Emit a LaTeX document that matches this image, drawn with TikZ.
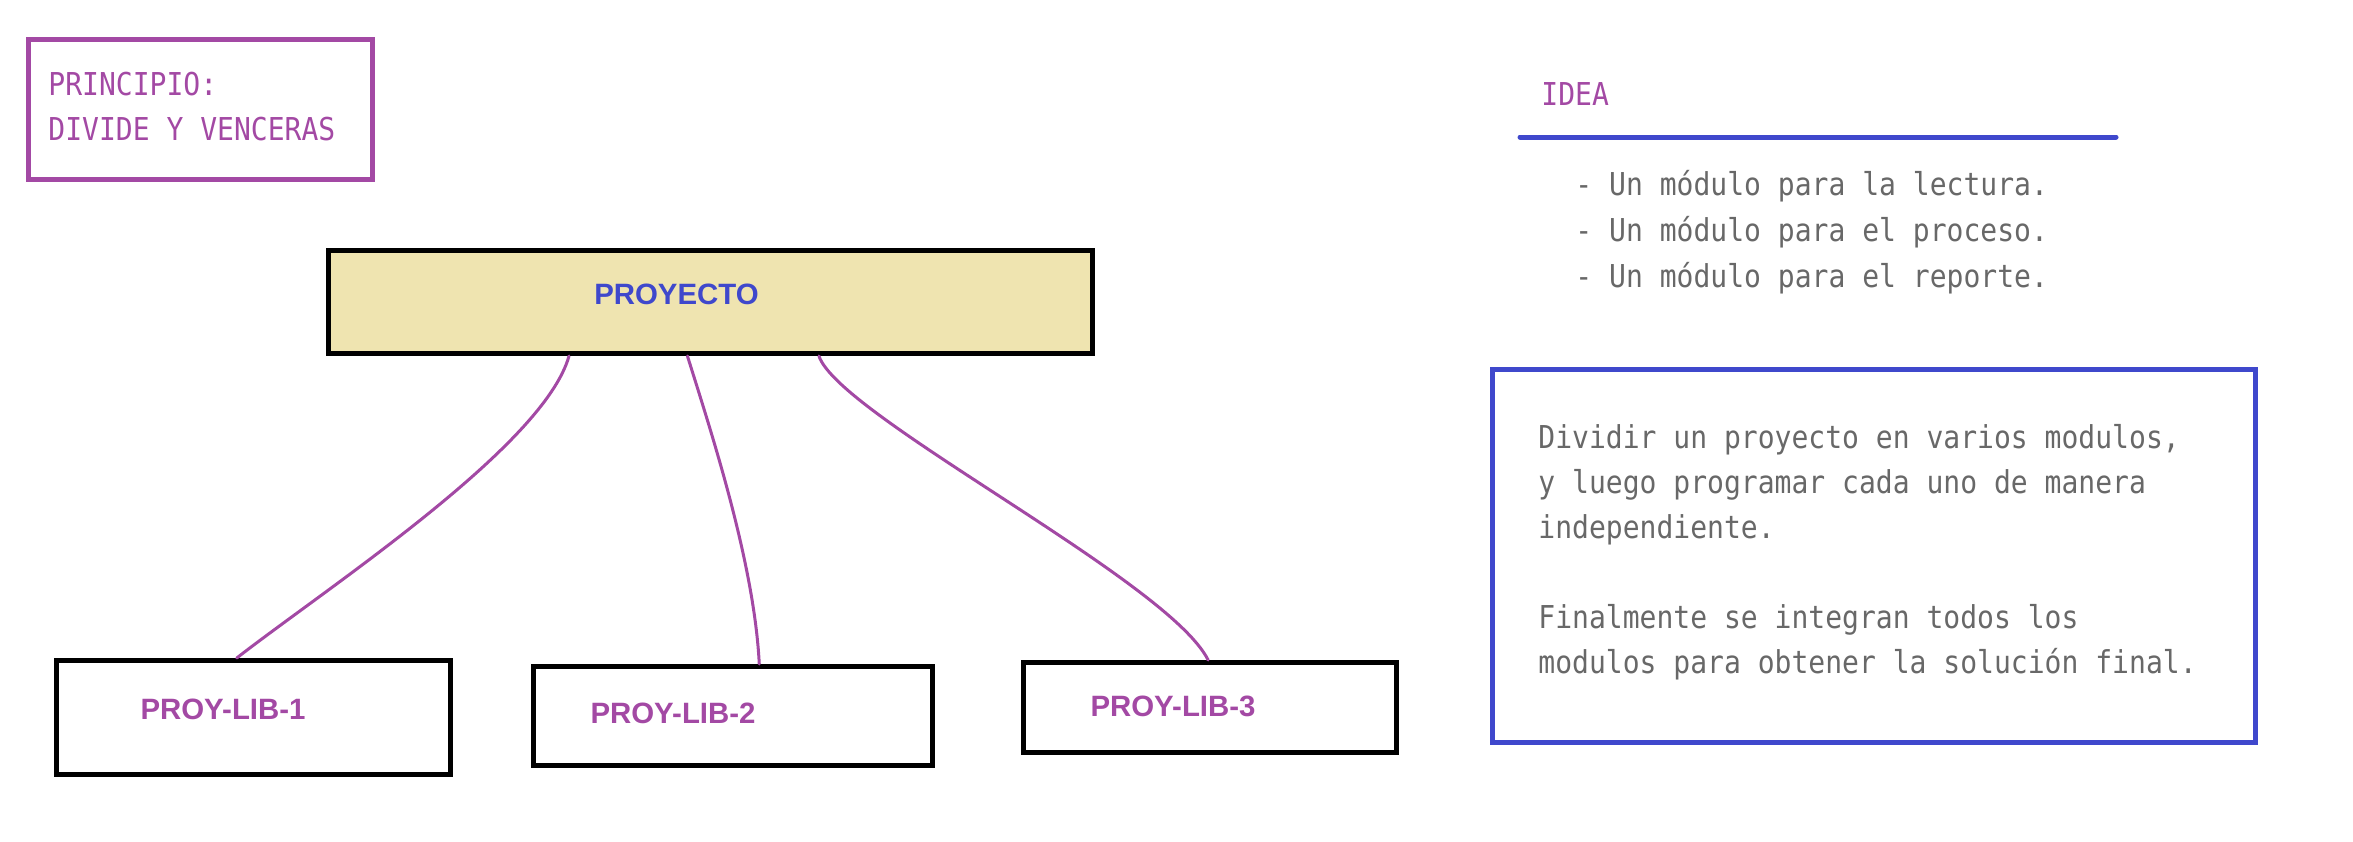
\documentclass[tikz,border=0pt]{standalone}
\usepackage{fontspec}
\setmainfont{Liberation Sans}
\newfontfamily\codefont[FakeStretch=0.89]{DejaVu Sans Mono}
\usepackage{tikz}
\usetikzlibrary{calc}
\definecolor{paintpurple}{RGB}{163,73,164}
\definecolor{paintblue}{RGB}{63,72,204}
\definecolor{painttan}{RGB}{239,228,176}
\definecolor{notegray}{RGB}{104,104,104}
\tikzstyle{sketch}=[x=0.5pt, y=-0.5pt]
\tikzstyle{box}=[rectangle, draw=black, line width=2.5pt, inner sep=0pt]
\tikzstyle{projbox}=[box, fill=painttan]
\tikzstyle{frame}=[rectangle, line width=2.5pt, inner sep=0pt]
\tikzstyle{libname}=[inner sep=0pt, anchor=base, text=paintpurple, font=\fontsize{14.7}{17}\selectfont\bfseries]
\tikzstyle{projname}=[libname, text=paintblue]
\tikzstyle{code}=[inner sep=0pt, anchor=base west, align=left, font=\codefont\fontsize{15.75}{22.5}\selectfont]
\tikzstyle{bullets}=[code, font=\codefont\fontsize{15.75}{23}\selectfont]
\tikzstyle{link}=[-, draw=paintpurple, line width=1.5pt, line cap=round]
\tikzstyle{rule}=[-, draw=paintblue, line width=2.5pt, line cap=round]

\begin{document}
\begin{tikzpicture}[sketch]
	\useasboundingbox (0,0) rectangle (2353,841);

	%The principle (multi-line nodes sit on their last line)
	\draw (200.25,109.5) node[frame, draw=paintpurple, minimum width=172.25pt, minimum height=70pt] (principio) {};
	\draw (48,140) node[code, text=paintpurple] (principio-txt) {PRINCIPIO:\\DIVIDE Y VENCERAS};

	%The project
	\draw (710.5,302) node[projbox, minimum width=382pt, minimum height=51.5pt] (proy) {};
	\draw (676.5,304) node[projname] (proy-txt) {PROYECTO};

	%The libraries
	\draw (253.5,717.5) node[box, minimum width=197pt, minimum height=57pt] (lib1) {};
	\draw (733,716) node[box, minimum width=199.5pt, minimum height=49.5pt] (lib2) {};
	\draw (1210,707.5) node[box, minimum width=186.5pt, minimum height=45pt] (lib3) {};
	\draw (223,719) node[libname] (lib1-txt) {PROY-LIB-1};
	\draw (673,723) node[libname] (lib2-txt) {PROY-LIB-2};
	\draw (1173,716) node[libname] (lib3-txt) {PROY-LIB-3};

	%The links
	\draw[link] ($(proy.south west)!0.316!(proy.south east)$) .. controls +(-25,90) and +(90,-70) .. ($(lib1.north west)!0.458!(lib1.north east)$);
	\draw[link] ($(proy.south west)!0.470!(proy.south east)$) .. controls +(25,80) and +(-5,-100) .. ($(lib2.north west)!0.565!(lib2.north east)$);
	\draw[link] ($(proy.south west)!0.641!(proy.south east)$) .. controls +(20,60) and +(-40,-80) .. ($(lib3.north west)!0.495!(lib3.north east)$);

	%The idea
	\draw (1541,105) node[code, text=paintpurple] (idea) {IDEA};
	\coordinate (rule-l) at (1520,137);
	\coordinate (rule-r) at (2116,137);
	\draw[rule] (rule-l) -- (rule-r);
	\draw (1575,287) node[bullets, text=notegray] (modulos) {- Un módulo para la lectura.\\- Un módulo para el proceso.\\- Un módulo para el reporte.};

	%The summary
	\draw (1873.5,555.5) node[frame, draw=paintblue, minimum width=381.5pt, minimum height=186.5pt] (resumen) {};
	\draw (1538,673) node[code, text=notegray] (resumen-txt) {Dividir un proyecto en varios modulos,\\y luego programar cada uno de manera\\independiente.\\[22.5pt]Finalmente se integran todos los\\modulos para obtener la solución final.};
\end{tikzpicture}
\end{document}
